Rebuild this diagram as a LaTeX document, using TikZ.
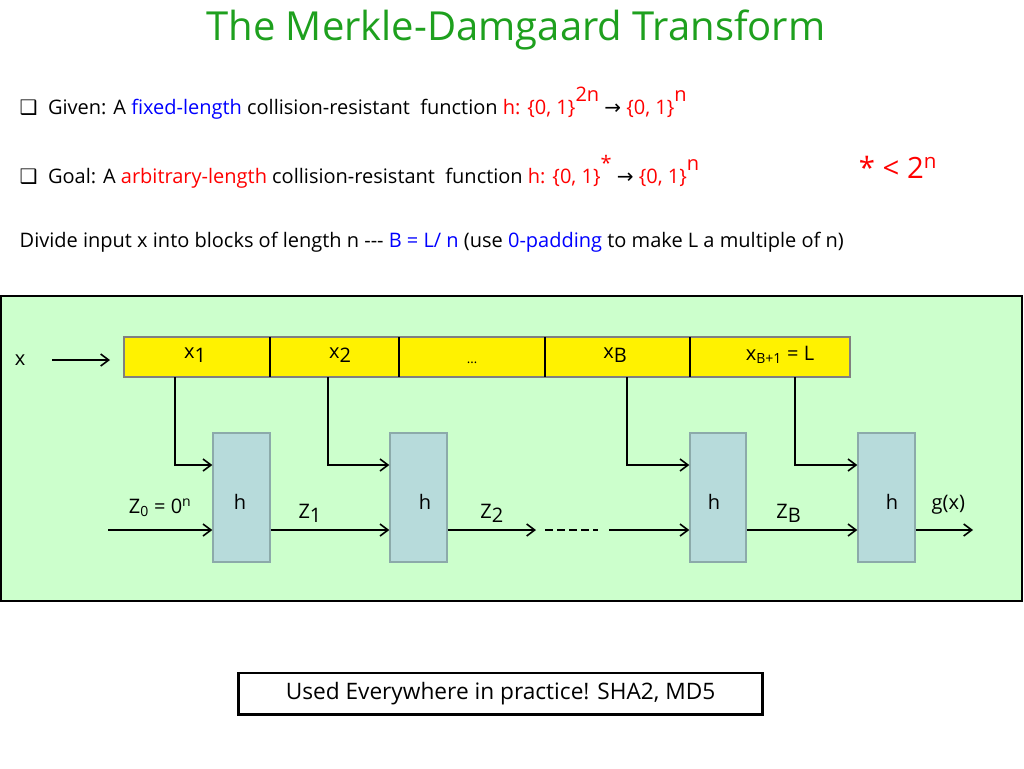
\documentclass[tikz,border=0pt]{standalone}
\usepackage{amsmath}
\usepackage{fontspec}
\setmainfont{Open Sans}
\newfontfamily\symfont{DejaVu Sans}
\usepackage{tikz}
\usetikzlibrary{arrows.meta}
\usetikzlibrary{positioning}
\definecolor{titlegreen}{RGB}{30,160,30}
\definecolor{panelgreen}{RGB}{204,255,204}
\definecolor{hblue}{RGB}{183,219,219}
\definecolor{hborder}{RGB}{140,170,170}
\newcommand{\bigsub}[1]{\raisebox{-0.35ex}{\fontsize{15}{18}\selectfont #1}}
\begin{document}
\begin{tikzpicture}[x=0.75pt,y=-0.75pt,font=\fontsize{15}{18}\selectfont]
\tikzset{
    hbox/.style={
              draw=hborder,
                   fill=hblue,
                   line width=1pt
    },
    arr/.style={
              -{Straight Barb[length=6pt,width=9pt]},
                   line width=1.2pt
    },
    wire/.style={
              line width=1.2pt
    }
}
    \useasboundingbox (0,0) rectangle (1024,768);
    \node (title) at (516,30) {\fontsize{30}{34}\selectfont\color{titlegreen}The Merkle-Damgaard Transform};
    \node (given)[anchor=west] at (15,103) {{\symfont ❑}\ \ Given: A \textcolor{blue}{fixed-length} collision-resistant\ \ function \textcolor{red}{h: \{0, 1\}\raisebox{1.2ex}{\fontsize{15}{18}\selectfont 2n}} {\symfont→} \textcolor{red}{\{0, 1\}\raisebox{1.2ex}{\fontsize{15}{18}\selectfont n}}};
    \node (goal)[anchor=west] at (15,172) {{\symfont ❑}\ \ Goal: A \textcolor{red}{arbitrary-length} collision-resistant\ \ function \textcolor{red}{h: \{0, 1\}\raisebox{1.2ex}{\fontsize{15}{18}\selectfont *}} {\symfont→} \textcolor{red}{\{0, 1\}\raisebox{1.2ex}{\fontsize{15}{18}\selectfont n}}};
    \node (bound) at (898,167) {\fontsize{22}{26}\selectfont\color{red}* < 2$^{\text{n}}$};
    \node (divide)[anchor=west] at (15,242) {Divide input x into blocks of length n -{}-{}- \textcolor{blue}{B = L/ n} (use \textcolor{blue}{0-padding} to make L a multiple of n)};

    % panel
    \draw[fill=panelgreen,line width=2pt] (1,296) rectangle (1022,601);

    % input blocks
    \draw[fill=yellow,draw=gray,line width=1pt] (124,337) rectangle (850,377);
    \foreach \xd in {270,399,545,690}
        \draw[line width=2pt] (\xd,337) -- (\xd,377);
    \node (x1) at (195,355) {x\bigsub{1}};
    \node (x2) at (340,355) {x\bigsub{2}};
    \node (xd) at (472,363) {\fontsize{10}{12}\selectfont\dots};
    \node (xB) at (615,355) {x\bigsub{B}};
    \node (xL) at (780,355) {x$_{\text{B+1}}$ = L};
    \node (x) at (20,360) {x};
    \coordinate (xs) at (52,360);
    \coordinate (xe) at (110,360);
    \draw[arr] (xs) -- (xe);

    % compression boxes
    \node (h1)[hbox,minimum width=42.75pt,minimum height=96.75pt] at (241.5,497.5) {};
    \node (h2)[hbox,minimum width=42.75pt,minimum height=96.75pt] at (418.5,497.5) {};
    \node (h3)[hbox,minimum width=42pt,minimum height=96.75pt] at (718,497.5) {};
    \node (h4)[hbox,minimum width=42.75pt,minimum height=96.75pt] at (886.5,497.5) {};
    \foreach \hn/\hx in {h1/240,h2/425,h3/714,h4/892}
        \node at (\hx,502) {h};

    % block feeds
    \coordinate (b1) at (175,377);
    \coordinate (b2) at (328,377);
    \coordinate (b3) at (627,377);
    \coordinate (b4) at (795,377);
    \draw[arr] (b1) |- (h1.west |- 0,465);
    \draw[arr] (b2) |- (h2.west |- 0,465);
    \draw[arr] (b3) |- (h3.west |- 0,465);
    \draw[arr] (b4) |- (h4.west |- 0,465);

    % chaining
    \coordinate (z0) at (108,530);
    \coordinate (z2e) at (536,530);
    \coordinate (ds) at (545,530);
    \coordinate (de) at (598,530);
    \coordinate (zBs) at (609,530);
    \coordinate (gx) at (973,530);
    \draw[arr] (z0) -- (h1.west |- z0) node[midway,above=6pt] {Z$_{\text{0}}$ = 0$^{\text{n}}$};
    \draw[arr] (h1.east |- z0) -- (h2.west |- z0) node[midway,above=2pt,xshift=-15pt] {Z\bigsub{1}};
    \draw[arr] (h2.east |- z0) -- (z2e) node[midway,above=2pt] {Z\bigsub{2}};
    \draw[wire,dash pattern=on 6pt off 3pt] (ds) -- (de);
    \draw[arr] (zBs) -- (h3.west |- z0);
    \draw[arr] (h3.east |- z0) -- (h4.west |- z0) node[midway,above=2pt,xshift=-10pt] {Z\bigsub{B}};
    \draw[arr] (h4.east |- z0) -- (gx) node[midway,above=8pt,xshift=3pt] {g(x)};

    \node (used)[draw,fill=white,line width=2pt,minimum width=393pt,minimum height=31pt] at (500.5,693.5) {\fontsize{17}{20}\selectfont Used Everywhere in practice! SHA2, MD5};
\end{tikzpicture}
\end{document}
